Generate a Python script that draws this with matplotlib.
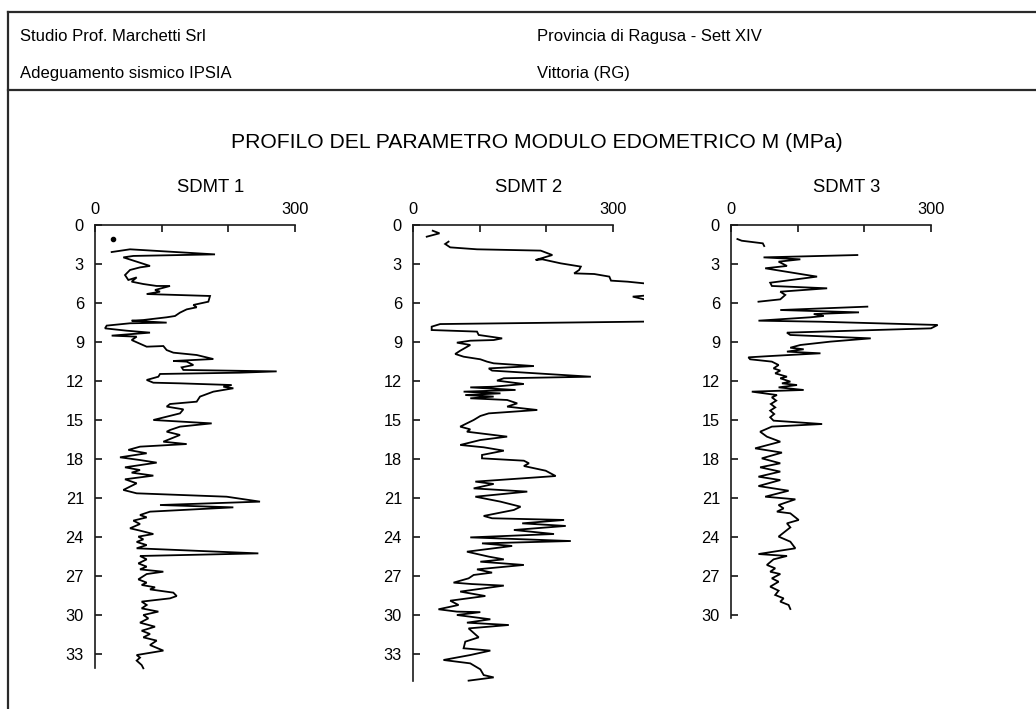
import numpy as np
import matplotlib
matplotlib.use("Agg")
import matplotlib.pyplot as plt
from matplotlib.lines import Line2D

plt.rcParams['font.family'] = ['Liberation Sans', 'DejaVu Sans']

# ---------------- data: depth (m) and constrained modulus M (MPa) ----------------
sdmt1_dot_depth = [1.08]
sdmt1_dot_m = [27.5]

sdmt1_depth = [2.08, 1.87, 2.26, 2.38, 2.49, 3.15, 3.26, 3.46, 3.85, 4.23, 4.03, 4.36, 4.54,
               4.69, 4.69, 5.0, 5.13, 5.31, 5.46, 5.9, 6.15, 6.33, 6.49, 6.74, 7.0, 7.1,
               7.31, 7.36, 7.51, 7.56, 7.74, 7.95, 8.13, 8.28, 8.51, 8.59, 8.85, 9.36,
               9.31, 9.62, 9.82, 10.0, 10.31, 10.46, 10.51, 10.77, 10.95, 11.15, 11.26,
               11.36, 11.46, 11.67, 11.92, 12.13, 12.18, 12.31, 12.44, 12.56, 12.82,
               13.2, 13.59, 13.77, 13.97, 14.18, 14.49, 15.0, 15.26, 15.51, 15.77,
               15.9, 16.15, 16.67, 16.85, 17.05, 17.3, 17.56, 17.87, 18.08, 18.28,
               18.64, 18.85, 19.05, 19.28, 19.56, 19.87, 20.38, 20.64, 20.9, 21.28,
               21.54, 21.72, 22.05, 22.31, 22.49, 22.74, 23.0, 23.33, 23.51, 23.77,
               23.97, 24.18, 24.38, 24.62, 24.87, 25.26, 25.46, 25.72, 26.03, 26.28,
               26.49, 26.67, 26.85, 27.26, 27.51, 27.69, 27.87, 28.03, 28.28, 28.54,
               28.72, 28.97, 29.23, 29.49, 29.74, 30.0, 30.26, 30.59, 30.9, 31.21,
               31.46, 31.72, 31.97, 32.31, 32.74, 33.08, 33.28, 33.51, 33.85, 34.1]
sdmt1_m = [25, 52.5, 180, 57.5, 42.5, 82.5, 67.5, 52.5, 45, 50, 62.5, 55, 72.5,
           92.5, 112.5, 90, 97.5, 77.5, 172.5, 170, 147.5, 152.5, 137.5, 127.5, 120, 107.5,
           72.5, 55, 107.5, 52.5, 17.5, 15, 47.5, 82.5, 25, 62.5, 55, 77.5,
           102.5, 107.5, 117.5, 152.5, 177.5, 117.5, 137.5, 147.5, 130, 132.5, 272.5,
           217.5, 97.5, 95, 77.5, 87.5, 127.5, 205, 192.5, 207.5, 177.5,
           157.5, 152.5, 112.5, 107.5, 132.5, 127.5, 87.5, 175, 127.5, 112.5,
           107.5, 127.5, 102.5, 137.5, 67.5, 50, 77.5, 37.5, 67.5, 92.5,
           45, 67.5, 55, 87.5, 45, 62.5, 42.5, 62.5, 197.5, 247.5,
           97.5, 207.5, 82.5, 67.5, 77.5, 57.5, 67.5, 52.5, 67.5, 87.5,
           65, 72.5, 62.5, 77.5, 62.5, 245, 67.5, 77.5, 65, 77.5,
           67.5, 102.5, 77.5, 65, 77.5, 70, 90, 82.5, 117.5, 122.5,
           112.5, 70, 77.5, 70, 95, 72.5, 80, 67.5, 90, 70,
           82.5, 72.5, 92.5, 82.5, 102.5, 62.5, 67.5, 62.5, 70, 72.5]

sdmt2_depth = [0.44, 0.64, 0.9, np.nan,
               1.28, 1.46, 1.72, 1.87, 1.97, 2.31, 2.69, 2.64, 2.95, 3.2, 3.46, 3.72,
               3.77, 3.97, 4.28, 4.36, 4.49, 4.9, 5.38, 5.51, 5.72, 6.4, 7.40, 7.62,
               7.82, 8.08, 8.2, 8.46, 8.72, 8.85, 8.9, 9.05, 9.23, 9.67, 9.92, 10.13,
               10.33, 10.51, 10.64, 10.85, 11.03, 11.2, 11.67, 11.79, 11.97, 12.23,
               12.44, 12.49, 12.69, 12.82, 12.95, 13.08, 13.2, 13.33, 13.46, 13.72,
               13.97, 14.23, 14.49, 14.69, 15.0, 15.51, 15.72, 15.9, 16.28, 16.54,
               16.92, 17.1, 17.36, 17.69, 17.95, 18.13, 18.33, 18.54, 18.9, 19.31,
               19.74, 19.92, 20.26, 20.51, 20.9, 21.28, 21.67, 21.92, 22.18, 22.38,
               22.56, 22.69, 22.95, 23.15, 23.46, 23.77, 24.03, 24.31, 24.49, 24.69,
               25.13, 25.51, 25.72, 25.9, 26.15, 26.49, 26.74, 26.92, 27.18, 27.51,
               27.62, 27.74, 28.2, 28.54, 28.9, 29.23, 29.56, 29.74, 29.78, 30.0,
               30.33, 30.59, 30.77, 31.03, 31.72, 32.05, 32.56, 32.74, 33.08, 33.46,
               33.72, 34.18, 34.62, 34.8, 35.05]
sdmt2_m = [29.6, 39.7, 20.6, np.nan,
           53.3, 48.2, 55.8, 96, 191.5, 209, 184, 194, 221.6, 251.7, 249.2, 241.7,
           271.8, 294.5, 297, 322, 347, 400, 360, 329.6, 347, 420, 400, 40.7,
           28, 28, 96, 98.5, 133.7, 121, 85.9, 65.8, 85.9, 70.8, 63.3, 75.9,
           101, 111, 121, 181.4, 113.6, 118.6, 266.8, 136.2, 126, 166.3,
           121, 85.9, 153.8, 75.9, 131.2, 78.4, 121, 85.9, 141.2, 156.3,
           141.2, 186.4, 113.6, 101, 91, 70.8, 85.9, 80.9, 141.2, 101,
           70.8, 106, 136.2, 103.5, 103.5, 166.3, 173.9, 166.3, 199, 214,
           93.5, 121, 91, 171.4, 93.5, 131.2, 161.3, 151.3, 126, 106,
           118.6, 226.6, 163.8, 229.1, 151.3, 211.5, 85.9, 236.7, 103.5, 148.7,
           80.9, 113.6, 136.2, 101, 166.3, 96, 118.6, 91, 83.4, 60.8,
           88.4, 136.2, 70.8, 108.5, 55.8, 68.3, 38.2, 65.8, 101, 65.8,
           116, 80.9, 143.7, 83.4, 98.5, 78.4, 75.9, 116, 85.9, 45.7,
           85.9, 101, 106, 121, 83.4]

sdmt3_depth = [1.08, 1.21, 1.41, 1.62, np.nan,
               2.31, 2.49, 2.64, 2.82, 3.15, 3.33, 3.85, 3.97, 4.44, 4.69, 4.87, 5.13,
               5.38, 5.72, 5.9, np.nan,
               6.28, 6.54, 6.72, 6.85, 7.0, 7.1, 7.36, 7.44, 7.69, 7.95, 8.28, 8.46,
               8.72, 8.97, 9.23, 9.44, 9.56, 9.74, 9.87, 10.08, 10.18, 10.33, 10.51,
               10.77, 11.03, 11.2, 11.41, 11.67, 11.79, 12.05, 12.18, 12.31, 12.49,
               12.69, 12.82, 13.08, 13.26, 13.51, 13.77, 14.03, 14.28, 14.54, 14.79,
               15.05, 15.31, 15.51, 15.9, 16.28, 16.67, 17.18, 17.51,
               17.95, 18.33, 18.64, 18.97, 19.36, 19.62, 20.08, 20.44, 20.9, 21.1,
               21.54, 21.8, 22.05, 22.18, 22.69, 22.95, 23.26, 23.97, 24.36, 24.87,
               25.31, 25.46, 25.72, 26.15, 26.41, 26.67, 26.85, 27.18, 27.44, 27.82,
               28.13, 28.46, 28.72, 28.97, 29.23, 29.54]
sdmt3_m = [9.6, 16.1, 47.7, 49.8, np.nan,
           189.5, 48.8, 104, 71.4, 83.9, 51.3, 114, 129.1, 58.8, 61.3, 144.2, 73.9,
           81.4, 73.9, 41.2, np.nan,
           204.5, 73.9, 192, 124.1, 139.2, 119.1, 41.2, 134.2, 310, 300, 83.9, 88.9,
           209.6, 149.3, 104, 88.9, 109, 83.9, 134.2, 58.8, 26.1, 28.7, 61.3,
           71.4, 63.8, 73.9, 66.3, 83.9, 73.9, 89, 76.4, 99, 71.4,
           109, 31.2, 68.9, 61.3, 67.8, 59.8, 66.3, 58.8, 64.8, 58.8,
           63.8, 136.7, 61.3, 43.7, 53.8, 73.9, 36.2, 76.4,
           46.2, 73.9, 43.7, 73.9, 41.2, 73.9, 41.2, 86.4, 51.3, 96.5,
           71.4, 78.9, 68.9, 89, 101.5, 83.9, 89, 71.4, 89, 96.5,
           41.2, 84, 63.8, 53.8, 66.3, 58.8, 73.9, 61.3, 71.4, 58.8,
           71.4, 66.3, 78.9, 73.9, 86.4, 89]

panel_titles = ["SDMT 1", "SDMT 2", "SDMT 3"]
x_ticks = [0, 100, 200, 300]
x_tick_labels = ["0", "", "", "300"]
depth_ticks = [list(range(0, 34, 3)), list(range(0, 34, 3)), list(range(0, 31, 3))]
depth_ends = [34.1, 35.1, 30.2]

header_left = ["Studio Prof. Marchetti Srl", "Adeguamento sismico IPSIA"]
header_right = ["Provincia di Ragusa - Sett XIV", "Vittoria (RG)"]
main_title = "PROFILO DEL PARAMETRO MODULO EDOMETRICO M (MPa)"

# ---------------- figure ----------------
W, H = 1036, 709
fig = plt.figure(figsize=(W / 100, H / 100), dpi=100)
fig.patch.set_facecolor("white")

def fx(px):
    return px / W

def fy(py):
    return 1 - py / H

# frame lines of the sheet
line_kw = dict(color="#2a2a2a", linewidth=1.6, transform=fig.transFigure)
fig.add_artist(Line2D([fx(8), 1.0], [fy(12), fy(12)], **line_kw))
fig.add_artist(Line2D([fx(8), 1.0], [fy(90), fy(90)], **line_kw))
fig.add_artist(Line2D([fx(8), fx(8)], [fy(12), 0.0], **line_kw))

# header text
hdr_size = 12.0
fig.text(fx(20), fy(41), header_left[0], fontsize=hdr_size, va="baseline", ha="left")
fig.text(fx(20), fy(78), header_left[1], fontsize=hdr_size, va="baseline", ha="left")
fig.text(fx(537), fy(41), header_right[0], fontsize=hdr_size, va="baseline", ha="left")
fig.text(fx(537), fy(78), header_right[1], fontsize=hdr_size, va="baseline", ha="left")

fig.text(fx(537), fy(143), main_title, fontsize=15.2, ha="center", va="center")

# panels
x_max = 347
px_per_unit = 0.6667
depth_max = 35.2
px_per_m = 13.0
axes_top_px = 225
left_px = [95, 413, 731]

series = [(sdmt1_depth, sdmt1_m), (sdmt2_depth, sdmt2_m), (sdmt3_depth, sdmt3_m)]

for i in range(3):
    w_px = x_max * px_per_unit
    h_px = depth_max * px_per_m
    ax = fig.add_axes([fx(left_px[i]), fy(axes_top_px + h_px), w_px / W, h_px / H])
    ax.set_xlim(0, x_max)
    ax.set_ylim(depth_max, 0)
    d, m = series[i]
    ax.plot(m, d, color="black", linewidth=1.3, solid_joinstyle="miter")
    if i == 0:
        ax.plot(sdmt1_dot_m, sdmt1_dot_depth, "o", color="black", markersize=3.0)

    for s in ["right", "bottom"]:
        ax.spines[s].set_visible(False)
    ax.spines["top"].set_bounds(0, 300)
    ax.spines["left"].set_bounds(0, depth_ends[i])
    for s in ["top", "left"]:
        ax.spines[s].set_linewidth(1.2)
        ax.spines[s].set_color("#1a1a1a")

    ax.xaxis.tick_top()
    ax.set_xticks(x_ticks)
    ax.set_xticklabels(x_tick_labels)
    ax.set_yticks(depth_ticks[i])
    ax.tick_params(axis="x", direction="in", length=5, width=1.1, pad=6,
                   labelsize=11.8, top=True, bottom=False)
    ax.tick_params(axis="y", direction="in", length=5, width=1.1, pad=8,
                   labelsize=11.8)
    ax.set_facecolor("none")

    cx = left_px[i] + w_px / 2
    fig.text(fx(cx), fy(187), panel_titles[i], fontsize=13.3, ha="center", va="center")

fig.savefig("out.png", dpi=100, facecolor="white")
